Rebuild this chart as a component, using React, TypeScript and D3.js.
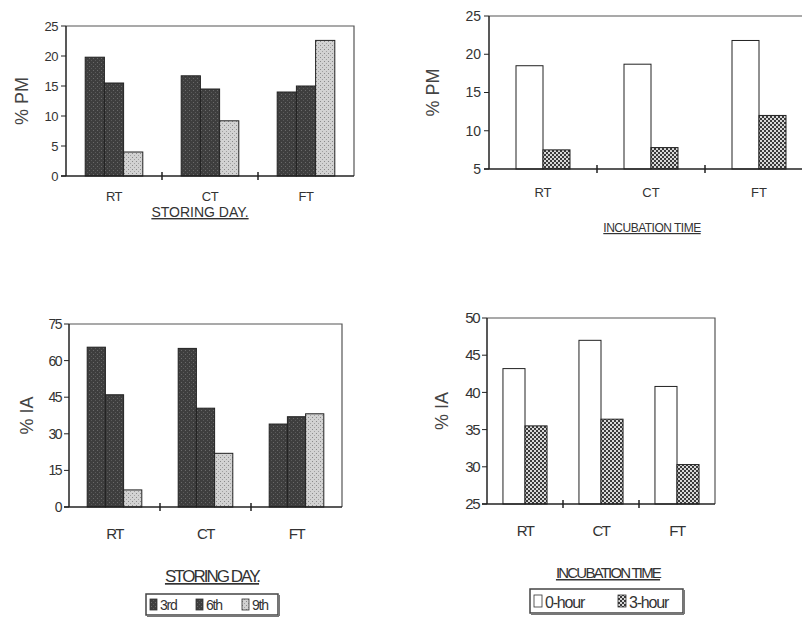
import React from "react";
import * as d3 from "d3";

// categories + series
const treatments = ["RT", "CT", "FT"];
const storingDays = ["3rd", "6th", "9th"];
const incubation = ["0-hour", "3-hour"];

// % PM by storing day (RT, CT, FT)
const pmDay3 = [19.8, 16.7, 14];
const pmDay6 = [15.5, 14.5, 15];
const pmDay9 = [4, 9.2, 22.6];
// % PM by incubation time
const pmHour0 = [18.5, 18.7, 21.8];
const pmHour3 = [7.5, 7.8, 12];
// % IA by storing day
const iaDay3 = [65.5, 65, 34];
const iaDay6 = [46, 40.5, 37];
const iaDay9 = [7, 22, 38.2];
// % IA by incubation time
const iaHour0 = [43.2, 47, 40.8];
const iaHour3 = [35.5, 36.4, 30.3];

const pmTicks = [0, 5, 10, 15, 20, 25];
const pmTicks2 = [5, 10, 15, 20, 25];
const iaTicks = [0, 15, 30, 45, 60, 75];
const iaTicks2 = [25, 30, 35, 40, 45, 50];

const FONT = "'Liberation Sans', Arial, sans-serif";

// rows: one per category, one value per series
const byCategory = (...series: number[][]) =>
  treatments.map((t, i) => ({ cat: t, values: series.map((s) => s[i]) }));

type PanelProps = {
  x0: number;
  x1: number;
  frameRight: number;
  y0: number;
  y1: number;
  domain: [number, number];
  ticks: number[];
  rows: { cat: string; values: number[] }[];
  keys: string[];
  fills: string[];
  groupPad: number;
  yTitle: string;
  yTitleX: number;
  tickSize: number;
  catY: number;
  catSize: number;
  catSpacing: number;
};

const Panel = (p: PanelProps) => {
  const x = d3.scaleBand().domain(treatments).range([p.x0, p.x1]).padding(0);
  const inner = d3
    .scaleBand()
    .domain(p.keys)
    .range([x.bandwidth() * p.groupPad, x.bandwidth() * (1 - p.groupPad)])
    .padding(0);
  const y = d3.scaleLinear().domain(p.domain).range([p.y1, p.y0]);
  const bounds = x.domain().slice(1).map((c) => x(c) as number);

  return (
    <g fontFamily={FONT}>
      {p.rows.map((r) =>
        r.values.map((v, j) => (
          <rect
            key={r.cat + j}
            x={(x(r.cat) as number) + (inner(p.keys[j]) as number)}
            y={y(v)}
            width={inner.bandwidth()}
            height={y(p.domain[0]) - y(v)}
            fill={p.fills[j]}
            stroke="#222"
            strokeWidth={1}
          />
        ))
      )}
      {/* frame */}
      <path
        d={`M${p.x0},${p.y0}H${p.frameRight}V${p.y1}`}
        fill="none"
        stroke="#555"
        strokeWidth={1.2}
      />
      <line x1={p.x0} x2={p.x0} y1={p.y0} y2={p.y1} stroke="#222" strokeWidth={1.5} />
      <line x1={p.x0 - 5} x2={p.frameRight} y1={p.y1} y2={p.y1} stroke="#222" strokeWidth={1.5} />
      {p.ticks.map((t) => (
        <g key={t}>
          <line x1={p.x0 - 5} x2={p.x0} y1={y(t)} y2={y(t)} stroke="#222" />
          <text
            x={p.x0 - 8}
            y={y(t)}
            dy="0.35em"
            textAnchor="end"
            fontSize={p.tickSize}
            fill="#333"
            letterSpacing={p.catSpacing}
          >
            {t}
          </text>
        </g>
      ))}
      {bounds.map((b) => (
        <line key={b} x1={b} x2={b} y1={p.y1 - 4} y2={p.y1 + 4} stroke="#222" strokeWidth={1.5} />
      ))}
      {treatments.map((c) => (
        <text
          key={c}
          x={(x(c) as number) + x.bandwidth() / 2}
          y={p.catY}
          textAnchor="middle"
          fontSize={p.catSize}
          fill="#333"
          letterSpacing={p.catSpacing}
        >
          {c}
        </text>
      ))}
      <text
        transform={`translate(${p.yTitleX},${(p.y0 + p.y1) / 2}) rotate(-90)`}
        textAnchor="middle"
        fontSize={18}
        fill="#444"
      >
        {p.yTitle}
      </text>
    </g>
  );
};

const Title = ({ x, y, size, text, spacing }: { x: number; y: number; size: number; text: string; spacing: number }) => (
  <text
    x={x}
    y={y}
    textAnchor="middle"
    fontFamily={FONT}
    fontSize={size}
    fill="#333"
    letterSpacing={spacing}
    textDecoration="underline"
  >
    {text}
  </text>
);

export default function App() {
  const dayFills = ["url(#dark)", "url(#dark)", "url(#light)"];
  const hourFills = ["#fff", "url(#check)"];

  return (
    <svg width={802} height={626} style={{ position: "absolute", left: 0, top: 0, background: "#fff" }}>
      <defs>
        <pattern id="dark" width={4} height={4} patternUnits="userSpaceOnUse">
          <rect width={4} height={4} fill="#3e3e3e" />
          <rect x={1} y={2} width={1} height={1} fill="#6a6a6a" />
          <rect x={3} y={0} width={1} height={1} fill="#5a5a5a" />
        </pattern>
        <pattern id="light" width={4} height={4} patternUnits="userSpaceOnUse">
          <rect width={4} height={4} fill="#d2d2d2" />
          <rect x={0} y={1} width={1} height={1} fill="#8a8a8a" />
          <rect x={2} y={3} width={1} height={1} fill="#a0a0a0" />
        </pattern>
        <pattern id="check" width={4} height={4} patternUnits="userSpaceOnUse">
          <rect width={4} height={4} fill="#3a3a3a" />
          <rect x={0} y={0} width={2} height={2} fill="#d8d8d8" />
          <rect x={2} y={2} width={2} height={2} fill="#d8d8d8" />
        </pattern>
      </defs>

      <Panel
        x0={66} x1={354} frameRight={354} y0={26} y1={176}
        domain={[0, 25]} ticks={pmTicks}
        rows={byCategory(pmDay3, pmDay6, pmDay9)} keys={storingDays} fills={dayFills}
        groupPad={0.2} yTitle="% PM" yTitleX={28} tickSize={13}
        catY={201} catSize={13} catSpacing={-0.5}
      />
      <Title x={200} y={217} size={14} text="STORING DAY." spacing={0} />

      <Panel
        x0={489} x1={813} frameRight={813} y0={16} y1={169}
        domain={[5, 25]} ticks={pmTicks2}
        rows={byCategory(pmHour0, pmHour3)} keys={incubation} fills={hourFills}
        groupPad={0.25} yTitle="% PM" yTitleX={439} tickSize={14}
        catY={197} catSize={13} catSpacing={0}
      />
      <Title x={652} y={232} size={12} text="INCUBATION TIME" spacing={-0.5} />

      <Panel
        x0={69} x1={342} frameRight={342} y0={324} y1={507}
        domain={[0, 75]} ticks={iaTicks}
        rows={byCategory(iaDay3, iaDay6, iaDay9)} keys={storingDays} fills={dayFills}
        groupPad={0.2} yTitle="% IA" yTitleX={33} tickSize={14}
        catY={539} catSize={15} catSpacing={-1.5}
      />
      <Title x={212} y={582} size={17} text="STORING DAY." spacing={-2} />

      <Panel
        x0={487} x1={715} frameRight={715} y0={318} y1={504}
        domain={[25, 50]} ticks={iaTicks2}
        rows={byCategory(iaHour0, iaHour3)} keys={incubation} fills={hourFills}
        groupPad={0.21} yTitle="% IA" yTitleX={448} tickSize={15}
        catY={536} catSize={15} catSpacing={-1.5}
      />
      <Title x={608} y={578} size={15} text="INCUBATION TIME" spacing={-1.8} />

      {/* legend: storing day */}
      <g fontFamily={FONT} fontSize={14} fill="#333" letterSpacing={-1.2}>
        <rect x={146} y={594} width={132} height={21} fill="#fff" stroke="#444" strokeWidth={1.5} />
        <line x1={147} x2={279} y1={616} y2={616} stroke="#777" strokeWidth={2} />
        <line x1={279} x2={279} y1={595} y2={616} stroke="#777" strokeWidth={2} />
        {storingDays.map((d, i) => (
          <g key={d} transform={`translate(${150 + i * 46},0)`}>
            <rect x={0} y={599} width={7} height={11} fill={dayFills[i]} stroke="#333" strokeWidth={0.8} />
            <text x={10} y={610}>{d}</text>
          </g>
        ))}
      </g>

      {/* legend: incubation time */}
      <g fontFamily={FONT} fontSize={16} fill="#333" letterSpacing={-1.2}>
        <rect x={530} y={589} width={153} height={24} fill="#fff" stroke="#444" strokeWidth={1.5} />
        <line x1={531} x2={684} y1={614} y2={614} stroke="#777" strokeWidth={2} />
        <line x1={684} x2={684} y1={590} y2={614} stroke="#777" strokeWidth={2} />
        {incubation.map((d, i) => (
          <g key={d} transform={`translate(${534 + i * 84},0)`}>
            <rect x={0} y={595} width={8} height={12} fill={hourFills[i]} stroke="#333" strokeWidth={0.8} />
            <text x={11} y={608}>{d}</text>
          </g>
        ))}
      </g>
    </svg>
  );
}
